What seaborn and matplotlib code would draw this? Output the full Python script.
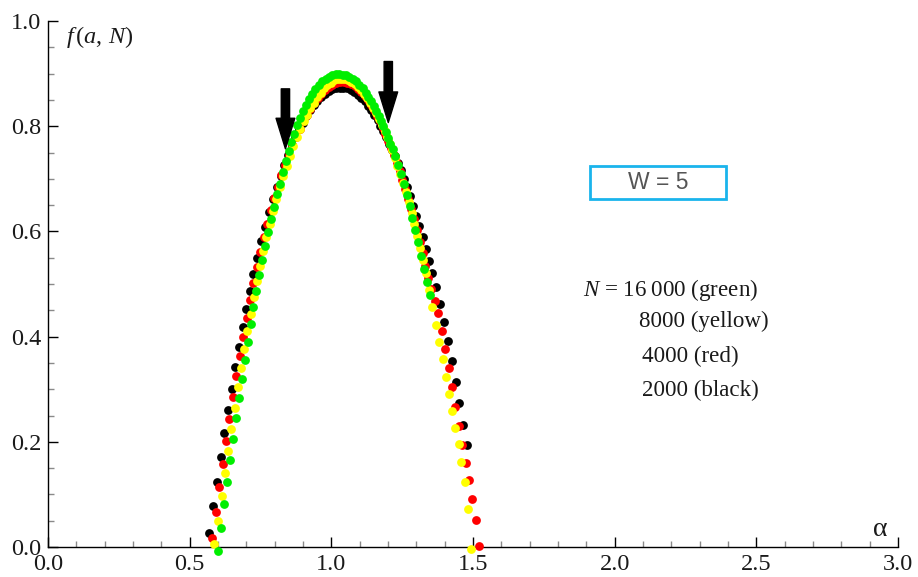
import matplotlib
matplotlib.use("Agg")
import matplotlib.pyplot as plt
import matplotlib.patches as patches
from matplotlib.ticker import MultipleLocator, FormatStrFormatter
import seaborn as sns

# f(alpha) spectra, one pair of lists per system size
alpha_black = [0.568, 0.584, 0.597, 0.609, 0.622, 0.635, 0.648, 0.661, 0.674, 0.687,
               0.699, 0.712, 0.725, 0.738, 0.752, 0.765, 0.779, 0.793, 0.807, 0.821,
               0.834, 0.847, 0.860, 0.873, 0.886, 0.899, 0.912, 0.925, 0.938, 0.951,
               0.964, 0.977, 0.990, 1.003, 1.016, 1.029, 1.042, 1.055, 1.068, 1.081,
               1.094, 1.106, 1.118, 1.130, 1.141, 1.152, 1.163, 1.173, 1.184, 1.194,
               1.204, 1.214, 1.224, 1.234, 1.245, 1.256, 1.267, 1.278, 1.289, 1.300,
               1.311, 1.322, 1.333, 1.345, 1.357, 1.370, 1.384, 1.399, 1.413, 1.426,
               1.439, 1.452, 1.465, 1.479]
f_black = [0.027, 0.077, 0.124, 0.171, 0.217, 0.260, 0.301, 0.342, 0.381, 0.418,
           0.452, 0.487, 0.519, 0.550, 0.581, 0.609, 0.636, 0.661, 0.684, 0.706,
           0.727, 0.746, 0.764, 0.780, 0.794, 0.807, 0.819, 0.830, 0.840, 0.848,
           0.855, 0.861, 0.866, 0.870, 0.872, 0.873, 0.873, 0.872, 0.869, 0.865,
           0.860, 0.854, 0.847, 0.839, 0.830, 0.821, 0.811, 0.801, 0.790, 0.779,
           0.767, 0.755, 0.743, 0.730, 0.716, 0.700, 0.684, 0.667, 0.649, 0.630,
           0.610, 0.589, 0.567, 0.544, 0.520, 0.494, 0.462, 0.427, 0.392, 0.354,
           0.314, 0.273, 0.232, 0.193]

alpha_red = [0.580, 0.593, 0.605, 0.618, 0.629, 0.640, 0.652, 0.665, 0.678, 0.689,
             0.701, 0.713, 0.725, 0.737, 0.749, 0.761, 0.773, 0.786, 0.798, 0.811,
             0.824, 0.837, 0.850, 0.862, 0.875, 0.888, 0.900, 0.913, 0.926, 0.939,
             0.952, 0.965, 0.978, 0.991, 1.004, 1.017, 1.030, 1.043, 1.056, 1.069,
             1.082, 1.094, 1.106, 1.118, 1.129, 1.140, 1.151, 1.161, 1.171, 1.181,
             1.191, 1.201, 1.211, 1.221, 1.231, 1.241, 1.251, 1.261, 1.271, 1.281,
             1.291, 1.301, 1.312, 1.322, 1.332, 1.342, 1.353, 1.365, 1.378, 1.390,
             1.402, 1.414, 1.426, 1.437, 1.450, 1.462, 1.475, 1.487, 1.498, 1.511,
             1.522]
f_red = [0.018, 0.066, 0.114, 0.158, 0.202, 0.244, 0.285, 0.326, 0.363, 0.400,
         0.435, 0.469, 0.501, 0.532, 0.561, 0.589, 0.615, 0.640, 0.663, 0.685,
         0.707, 0.727, 0.746, 0.764, 0.780, 0.795, 0.809, 0.822, 0.833, 0.844,
         0.853, 0.861, 0.868, 0.874, 0.879, 0.882, 0.884, 0.884, 0.883, 0.880,
         0.876, 0.871, 0.865, 0.857, 0.849, 0.840, 0.830, 0.820, 0.809, 0.797,
         0.785, 0.772, 0.759, 0.745, 0.730, 0.714, 0.697, 0.680, 0.662, 0.643,
         0.623, 0.602, 0.580, 0.558, 0.535, 0.512, 0.490, 0.467, 0.444, 0.411,
         0.376, 0.340, 0.304, 0.267, 0.230, 0.194, 0.160, 0.127, 0.091, 0.051,
         0.001]

alpha_yellow = [0.586, 0.601, 0.613, 0.625, 0.635, 0.647, 0.659, 0.671, 0.682, 0.693,
                0.704, 0.715, 0.726, 0.737, 0.748, 0.759, 0.771, 0.782, 0.794, 0.806,
                0.818, 0.830, 0.842, 0.854, 0.866, 0.878, 0.890, 0.902, 0.914, 0.926,
                0.938, 0.950, 0.962, 0.974, 0.986, 0.998, 1.010, 1.022, 1.034, 1.046,
                1.058, 1.070, 1.082, 1.094, 1.105, 1.116, 1.127, 1.138, 1.148, 1.158,
                1.168, 1.178, 1.188, 1.197, 1.206, 1.215, 1.224, 1.233, 1.243, 1.253,
                1.263, 1.273, 1.283, 1.293, 1.303, 1.313, 1.324, 1.335, 1.346, 1.357,
                1.370, 1.381, 1.393, 1.404, 1.415, 1.427, 1.437, 1.450, 1.459, 1.471,
                1.482, 1.492]
f_yellow = [0.006, 0.050, 0.097, 0.140, 0.183, 0.224, 0.264, 0.304, 0.341, 0.376,
            0.410, 0.443, 0.475, 0.506, 0.535, 0.563, 0.590, 0.615, 0.639, 0.662,
            0.684, 0.705, 0.725, 0.744, 0.762, 0.779, 0.795, 0.809, 0.822, 0.834,
            0.845, 0.855, 0.864, 0.872, 0.878, 0.883, 0.887, 0.889, 0.890, 0.889,
            0.887, 0.884, 0.880, 0.874, 0.868, 0.861, 0.853, 0.844, 0.835, 0.825,
            0.814, 0.803, 0.791, 0.779, 0.767, 0.754, 0.740, 0.725, 0.709, 0.692,
            0.674, 0.655, 0.635, 0.614, 0.592, 0.569, 0.545, 0.520, 0.489, 0.456,
            0.423, 0.390, 0.357, 0.323, 0.290, 0.258, 0.226, 0.195, 0.162, 0.124,
            0.072, -0.004]

alpha_green = [0.601, 0.611, 0.621, 0.631, 0.641, 0.652, 0.662, 0.673, 0.684, 0.694,
               0.705, 0.716, 0.725, 0.735, 0.746, 0.755, 0.767, 0.777, 0.787, 0.798,
               0.808, 0.819, 0.830, 0.840, 0.849, 0.859, 0.869, 0.879, 0.889, 0.900,
               0.911, 0.922, 0.933, 0.944, 0.956, 0.968, 0.980, 0.992, 1.004, 1.016,
               1.028, 1.040, 1.052, 1.064, 1.076, 1.088, 1.099, 1.110, 1.121, 1.131,
               1.141, 1.150, 1.159, 1.168, 1.176, 1.184, 1.192, 1.200, 1.208, 1.216,
               1.225, 1.235, 1.246, 1.256, 1.266, 1.276, 1.286, 1.296, 1.307, 1.318,
               1.328, 1.339, 1.348]
f_green = [-0.007, 0.036, 0.081, 0.123, 0.165, 0.205, 0.245, 0.283, 0.320, 0.356,
           0.390, 0.424, 0.457, 0.487, 0.517, 0.546, 0.572, 0.599, 0.624, 0.647,
           0.671, 0.691, 0.713, 0.733, 0.752, 0.770, 0.786, 0.802, 0.816, 0.829,
           0.841, 0.852, 0.862, 0.870, 0.878, 0.885, 0.890, 0.894, 0.897, 0.899,
           0.899, 0.898, 0.897, 0.894, 0.890, 0.885, 0.879, 0.872, 0.864, 0.856,
           0.847, 0.838, 0.829, 0.820, 0.810, 0.800, 0.789, 0.778, 0.767, 0.757,
           0.743, 0.726, 0.709, 0.690, 0.669, 0.648, 0.625, 0.603, 0.579, 0.554,
           0.529, 0.504, 0.480]

legend_lines = ["$N$ = 16\u2009000 (green)", "8000 (yellow)", "4000 (red)", "2000 (black)"]

sns.set_style("white")
plt.rcParams["font.family"] = ["Liberation Serif", "DejaVu Serif"]
plt.rcParams["mathtext.fontset"] = "custom"
plt.rcParams["mathtext.rm"] = "Liberation Serif"
plt.rcParams["mathtext.it"] = "Liberation Serif:italic"

fig = plt.figure(figsize=(9.18, 5.77), dpi=100)
ax = fig.add_axes([48 / 918, 30 / 577, 850 / 918, 526 / 577])

series = [
    (alpha_black, f_black, "black"),
    (alpha_red, f_red, "#ff0000"),
    (alpha_yellow, f_yellow, "#ffff00"),
    (alpha_green, f_green, "#00ee00"),
]
for xs, ys, col in series:
    sns.scatterplot(x=xs, y=ys, color=col, s=40, linewidth=0, ax=ax,
                    clip_on=False, zorder=3)

ax.set_xlim(0, 3.0)
ax.set_ylim(0, 1.0)
for side in ["top", "right"]:
    ax.spines[side].set_visible(False)
for side in ["left", "bottom"]:
    ax.spines[side].set_color("black")
    ax.spines[side].set_linewidth(1.0)

ax.xaxis.set_major_locator(MultipleLocator(0.5))
ax.xaxis.set_minor_locator(MultipleLocator(0.1))
ax.yaxis.set_major_locator(MultipleLocator(0.2))
ax.yaxis.set_minor_locator(MultipleLocator(0.05))
ax.xaxis.set_major_formatter(FormatStrFormatter("%.1f"))
ax.yaxis.set_major_formatter(FormatStrFormatter("%.1f"))
ax.tick_params(which="major", direction="in", length=7.5, width=1.0, color="black",
               labelsize=17.5, labelcolor="#1a1a1a", pad=5)
ax.tick_params(which="minor", direction="in", length=4.5, width=1.0, color="#8a8a8a")
ax.tick_params(axis="y", which="both", left=True)
ax.tick_params(axis="x", which="both", bottom=True)
ax.set_xlabel("")
ax.set_ylabel("")

# axis captions
ax.text(0.065, 0.970, r"$f\,(a,\,N)$", fontsize=17.5, color="#1a1a1a",
        ha="left", va="center")
ax.text(2.937, 0.034, "\u03b1", fontsize=20, color="#1a1a1a", ha="center", va="center")

# arrows marking the crossing points
arrow_style = "simple,head_length=2.2,head_width=1.35,tail_width=0.6"
ax.annotate("", xy=(0.838, 0.757), xytext=(0.838, 0.871),
            arrowprops=dict(arrowstyle=arrow_style, color="black", mutation_scale=10,
                            shrinkA=0, shrinkB=0), zorder=5)
ax.annotate("", xy=(1.201, 0.807), xytext=(1.201, 0.923),
            arrowprops=dict(arrowstyle=arrow_style, color="black", mutation_scale=10,
                            shrinkA=0, shrinkB=0), zorder=5)

# W = 5 box
ax.add_patch(patches.Rectangle((1.913, 0.662), 0.48, 0.062, fill=False,
                               edgecolor="#1ab4ec", linewidth=2.0, zorder=4))
ax.text(2.153, 0.693, "W = 5", fontsize=16.5, color="#555555", family="Liberation Sans",
        ha="center", va="center")

# size legend
ax.text(1.888, 0.489, legend_lines[0], fontsize=16.6, color="#1a1a1a", ha="left", va="center")
ax.text(2.086, 0.428, legend_lines[1], fontsize=16.6, color="#1a1a1a", ha="left", va="center")
ax.text(2.097, 0.363, legend_lines[2], fontsize=16.6, color="#1a1a1a", ha="left", va="center")
ax.text(2.097, 0.298, legend_lines[3], fontsize=16.6, color="#1a1a1a", ha="left", va="center")

fig.savefig("out.png", dpi=100)
